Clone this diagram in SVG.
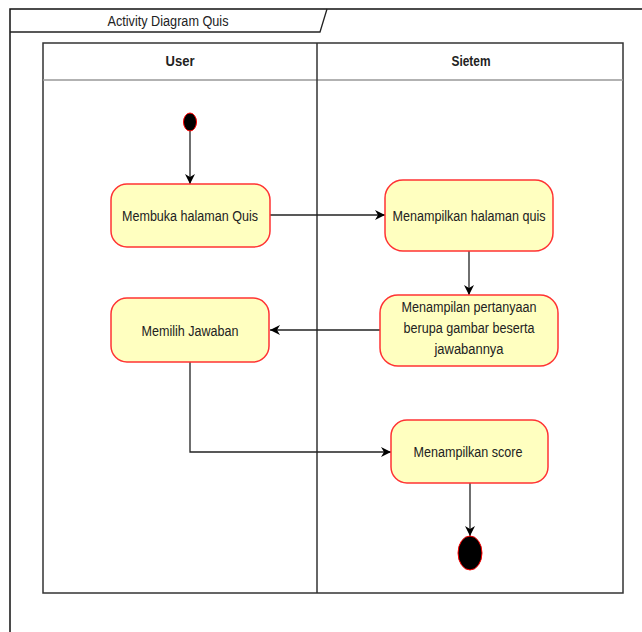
<svg xmlns="http://www.w3.org/2000/svg" width="642" height="632" viewBox="0 0 642 632">
<defs>
<marker id="arr" viewBox="0 0 10 10" refX="10" refY="5" markerWidth="10" markerHeight="10" markerUnits="userSpaceOnUse" orient="auto">
<path d="M0,0 L10,5 L0,10 L3,5 Z" fill="#000"/>
</marker>
</defs>
<style>
.act{fill:#ffffc0;stroke:#ff3333;stroke-width:1.5}
.t{font-family:"Liberation Sans",Arial,sans-serif;font-size:15.5px;fill:#222;text-anchor:middle}
.h{font-family:"Liberation Sans",Arial,sans-serif;font-size:15.5px;font-weight:bold;fill:#222;text-anchor:middle}
.ln{fill:none;stroke:#333;stroke-width:1.5}
.c{fill:none;stroke:#222;stroke-width:1.3;marker-end:url(#arr)}
.dot{fill:#000;stroke:#ff0000;stroke-width:1}
</style>
<rect width="642" height="632" fill="#fff"/>
<g id="frame">
<path d="M10,632 L10,9 L642,9" fill="none" stroke="#111" stroke-width="1.5"/>
<path d="M10,32 L320,32 L327,9" fill="none" stroke="#222" stroke-width="1.3"/>
<text class="t" x="168" y="26" textLength="121" lengthAdjust="spacingAndGlyphs">Activity Diagram Quis</text>
</g>
<g id="lanes">
<rect class="ln" x="43" y="43" width="580" height="550"/>
<line x1="43" y1="80" x2="623" y2="80" stroke="#999" stroke-width="1.5"/>
<line class="ln" x1="317" y1="43" x2="317" y2="593"/>
<text class="h" x="180" y="66" textLength="29" lengthAdjust="spacingAndGlyphs">User</text>
<text class="h" x="471" y="66" textLength="39" lengthAdjust="spacingAndGlyphs">Sietem</text>
</g>
<g id="connectors">
<line class="c" x1="190" y1="131" x2="190" y2="184"/>
<line class="c" x1="270" y1="215" x2="385" y2="215"/>
<line class="c" x1="469" y1="251" x2="469" y2="295"/>
<line class="c" x1="380" y1="330" x2="270" y2="330"/>
<polyline class="c" points="190,362 190,452 391,452"/>
<line class="c" x1="470" y1="483" x2="470" y2="536"/>
</g>
<g id="start"><ellipse class="dot" cx="190" cy="122" rx="6.5" ry="9"/></g>
<g id="membuka">
<rect class="act" x="111" y="184" width="159" height="63" rx="16"/>
<text class="t" x="190" y="221" textLength="136" lengthAdjust="spacingAndGlyphs">Membuka halaman Quis</text>
</g>
<g id="menampilkan-halaman">
<rect class="act" x="385" y="180" width="168" height="71" rx="18"/>
<text class="t" x="469" y="221" textLength="153" lengthAdjust="spacingAndGlyphs">Menampilkan halaman quis</text>
</g>
<g id="pertanyaan">
<rect class="act" x="380" y="295" width="178" height="71" rx="18"/>
<text class="t" x="469" y="312" textLength="135" lengthAdjust="spacingAndGlyphs">Menampilan pertanyaan</text>
<text class="t" x="469" y="333" textLength="131" lengthAdjust="spacingAndGlyphs">berupa gambar beserta</text>
<text class="t" x="469" y="354" textLength="69" lengthAdjust="spacingAndGlyphs">jawabannya</text>
</g>
<g id="memilih">
<rect class="act" x="111" y="298" width="158" height="64" rx="16"/>
<text class="t" x="190" y="336" textLength="97" lengthAdjust="spacingAndGlyphs">Memilih Jawaban</text>
</g>
<g id="score">
<rect class="act" x="391" y="420" width="157" height="63" rx="16"/>
<text class="t" x="468" y="457" textLength="109" lengthAdjust="spacingAndGlyphs">Menampilkan score</text>
</g>
<g id="end"><ellipse class="dot" cx="470" cy="553" rx="12" ry="17"/></g>
</svg>
